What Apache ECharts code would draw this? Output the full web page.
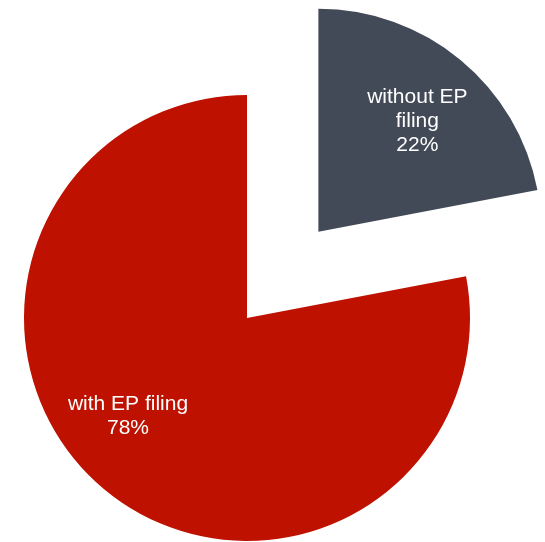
<!DOCTYPE html>
<html>
<head>
<meta charset="utf-8">
<style>
  html, body { margin: 0; padding: 0; background: #ffffff; }
  #chart { width: 545px; height: 542px; }
</style>
<script src="https://cdn.jsdelivr.net/npm/echarts@6/dist/echarts.min.js"></script>
</head>
<body>
<div id="chart"></div>
<script>
// Share of filings, by whether an EP filing exists
const categories = ['without EP\nfiling', 'with EP filing'];
const shares = [22, 78];
const colors = ['#424a57', '#be1100'];
const labelOffsets = [[26, -22], [-46, 10]];

const chart = echarts.init(document.getElementById('chart'), null, { renderer: 'canvas' });

chart.setOption({
  animation: false,
  series: [{
    type: 'pie',
    center: [247, 318],
    radius: 223,
    startAngle: 90,
    clockwise: true,
    selectedMode: 'single',
    selectedOffset: 112,
    avoidLabelOverlap: false,
    emphasis: { disabled: true },
    label: {
      show: true,
      position: 'inside',
      color: '#ffffff',
      fontFamily: 'Liberation Sans, Arial, sans-serif',
      fontSize: 21,
      lineHeight: 24,
      align: 'center',
      formatter: p => p.name + '\n' + p.value + '%'
    },
    labelLine: { show: false },
    itemStyle: { borderWidth: 0 },
    data: categories.map((name, i) => ({
      name,
      value: shares[i],
      selected: i === 0,
      itemStyle: { color: colors[i] },
      label: { offset: labelOffsets[i] },
      select: { label: { offset: labelOffsets[i] } }
    }))
  }]
});
</script>
</body>
</html>
